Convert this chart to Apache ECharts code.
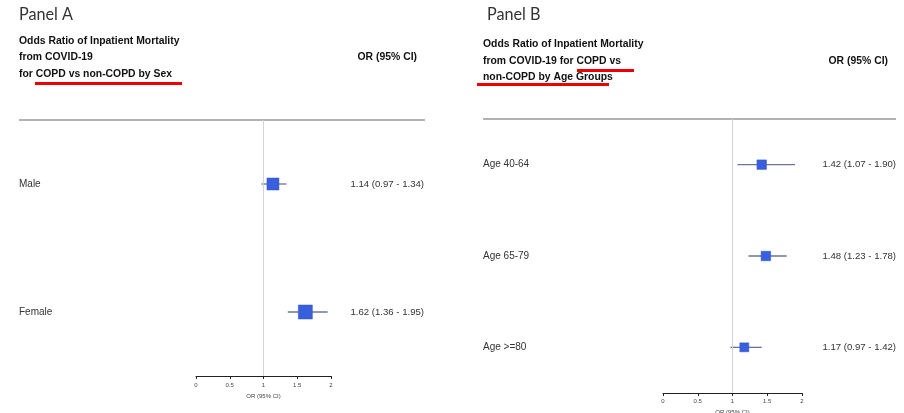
<!DOCTYPE html>
<html>
<head>
<meta charset="utf-8">
<script src="https://cdn.jsdelivr.net/npm/echarts@6/dist/echarts.min.js"></script>
<style>
html,body{margin:0;padding:0;background:#fff;}
#chart{width:904px;height:413px;}
</style>
</head>
<body>
<div id="chart"></div>
<script>
// ---- Data ----
const sexCategories = ['Male', 'Female'];
const sexOR   = [1.14, 1.62];
const sexLow  = [0.97, 1.36];
const sexHigh = [1.34, 1.95];

const ageCategories = ['Age 40-64', 'Age 65-79', 'Age >=80'];
const ageOR   = [1.42, 1.48, 1.17];
const ageLow  = [1.07, 1.23, 0.97];
const ageHigh = [1.90, 1.78, 1.42];

const xTicks = [0, 0.5, 1, 1.5, 2];
const axisTitle = 'OR (95% CI)';

// ---- Helpers ----
const fmt = (o, l, h) => o.map((v, i) => `${v.toFixed(2)} (${l[i].toFixed(2)} - ${h[i].toFixed(2)})`);
const sexText = fmt(sexOR, sexLow, sexHigh);
const ageText = fmt(ageOR, ageLow, ageHigh);

const BOX = '#3a5fdc';
const CI = '#6e7596';
const labelFont = 'Liberation Sans';

function forestData(o, l, h) {
  return o.map((v, i) => [v, i, l[i], h[i]]);
}

function makeRender(sizes) {
  return function (params, api) {
    const idx = api.value(1);
    const c = api.coord([api.value(0), idx]);
    const lo = api.coord([api.value(2), idx]);
    const hi = api.coord([api.value(3), idx]);
    const s = sizes[params.dataIndex];
    return {
      type: 'group',
      children: [
        { type: 'line', shape: { x1: lo[0], y1: lo[1], x2: hi[0], y2: hi[1] },
          style: { stroke: CI, lineWidth: 1.3 } },
        { type: 'rect', shape: { x: c[0] - s / 2, y: c[1] - s / 2, width: s, height: s },
          style: { fill: BOX, stroke: '#2f52c8', lineWidth: 0.5 } }
      ]
    };
  };
}

function xAxisCfg(gridIndex, gap, margin) {
  return {
    gridIndex, type: 'value', min: xTicks[0], max: xTicks[xTicks.length - 1], interval: 0.5,
    name: axisTitle, nameLocation: 'middle', nameGap: gap,
    nameTextStyle: { fontSize: 6, color: '#444', fontFamily: labelFont },
    axisLine: { show: true, lineStyle: { color: '#222', width: 1 } },
    axisTick: { show: true, length: 3, lineStyle: { color: '#222' } },
    axisLabel: { fontSize: 6, color: '#444', margin: margin, fontFamily: labelFont,
      formatter: v => String(v) },
    splitLine: { show: false }
  };
}

function yLeft(gridIndex, cats, margin) {
  return {
    gridIndex, type: 'category', data: cats, inverse: true, position: 'left',
    axisLine: { show: false }, axisTick: { show: false }, splitLine: { show: false },
    axisLabel: { align: 'left', margin: margin, fontSize: 10, color: '#333', fontFamily: labelFont }
  };
}
function yRight(gridIndex, texts, margin) {
  return {
    gridIndex, type: 'category', data: texts, inverse: true, position: 'right',
    axisLine: { show: false }, axisTick: { show: false }, splitLine: { show: false },
    axisLabel: { align: 'right', margin: margin, fontSize: 9.6, color: '#333', fontFamily: labelFont }
  };
}

const refLine = {
  silent: true, symbol: 'none', label: { show: false },
  lineStyle: { color: '#d4d4d8', width: 1, type: 'solid' },
  data: [{ xAxis: 1 }]
};

const headFont = 'bold 10.4px "Liberation Sans", Arial, sans-serif';
const panelFont = '18px Lato, "Open Sans", sans-serif';

const graphics = [
  // Panel A
  { type: 'text', x: 19, y: 5, scaleX: 0.9, style: { text: 'Panel A', font: panelFont, fill: '#333' } },
  { type: 'text', x: 19, y: 41, style: { text: 'Odds Ratio of Inpatient Mortality', font: headFont, fill: '#111', verticalAlign: 'middle' } },
  { type: 'text', x: 19, y: 57, style: { text: 'from COVID-19', font: headFont, fill: '#111', verticalAlign: 'middle' } },
  { type: 'text', x: 19, y: 74, style: { text: 'for COPD vs non-COPD by Sex', font: headFont, fill: '#111', verticalAlign: 'middle' } },
  { type: 'text', x: 417, y: 57, style: { text: 'OR (95% CI)', font: headFont, fill: '#111', verticalAlign: 'middle', align: 'right' } },
  { type: 'rect', shape: { x: 35, y: 82, width: 147, height: 3 }, style: { fill: '#ee0000' } },
  { type: 'line', shape: { x1: 19, y1: 120, x2: 425, y2: 120 }, style: { stroke: '#999', lineWidth: 1.5 } },
  // Panel B
  { type: 'text', x: 487, y: 5, scaleX: 0.9, style: { text: 'Panel B', font: panelFont, fill: '#333' } },
  { type: 'text', x: 483, y: 44, style: { text: 'Odds Ratio of Inpatient Mortality', font: headFont, fill: '#111', verticalAlign: 'middle' } },
  { type: 'text', x: 483, y: 61, style: { text: 'from COVID-19 for COPD vs', font: headFont, fill: '#111', verticalAlign: 'middle' } },
  { type: 'text', x: 483, y: 77, style: { text: 'non-COPD by Age Groups', font: headFont, fill: '#111', verticalAlign: 'middle' } },
  { type: 'text', x: 888, y: 61, style: { text: 'OR (95% CI)', font: headFont, fill: '#111', verticalAlign: 'middle', align: 'right' } },
  { type: 'rect', shape: { x: 577, y: 69, width: 57, height: 3 }, style: { fill: '#ee0000' } },
  { type: 'rect', shape: { x: 477, y: 83, width: 132, height: 3 }, style: { fill: '#ee0000' } },
  { type: 'line', shape: { x1: 483, y1: 119, x2: 896, y2: 119 }, style: { stroke: '#999', lineWidth: 1.5 } }
];

const chart = echarts.init(document.getElementById('chart'), null, { renderer: 'canvas' });
chart.setOption({
  backgroundColor: '#fff',
  animation: false,
  textStyle: { fontFamily: labelFont },
  graphic: graphics,
  grid: [
    { left: 196, right: 904 - 331, top: 120, bottom: 413 - 376, containLabel: false, outerBoundsMode: 'none' },
    { left: 663, right: 904 - 802, top: 119, bottom: 413 - 393, containLabel: false, outerBoundsMode: 'none' }
  ],
  xAxis: [ xAxisCfg(0, 14, 6), xAxisCfg(1, 11, 5) ],
  yAxis: [
    yLeft(0, sexCategories, 177), yRight(0, sexText, 93),
    yLeft(1, ageCategories, 180), yRight(1, ageText, 94)
  ],
  series: [
    { type: 'custom', xAxisIndex: 0, yAxisIndex: 0, clip: false,
      renderItem: makeRender([12, 14]), encode: { x: [0, 2, 3], y: 1 },
      data: forestData(sexOR, sexLow, sexHigh), markLine: refLine, z: 3 },
    { type: 'custom', xAxisIndex: 1, yAxisIndex: 2, clip: false,
      renderItem: makeRender([9.5, 9.5, 9]), encode: { x: [0, 2, 3], y: 1 },
      data: forestData(ageOR, ageLow, ageHigh), markLine: refLine, z: 3 }
  ]
});
</script>
</body>
</html>
